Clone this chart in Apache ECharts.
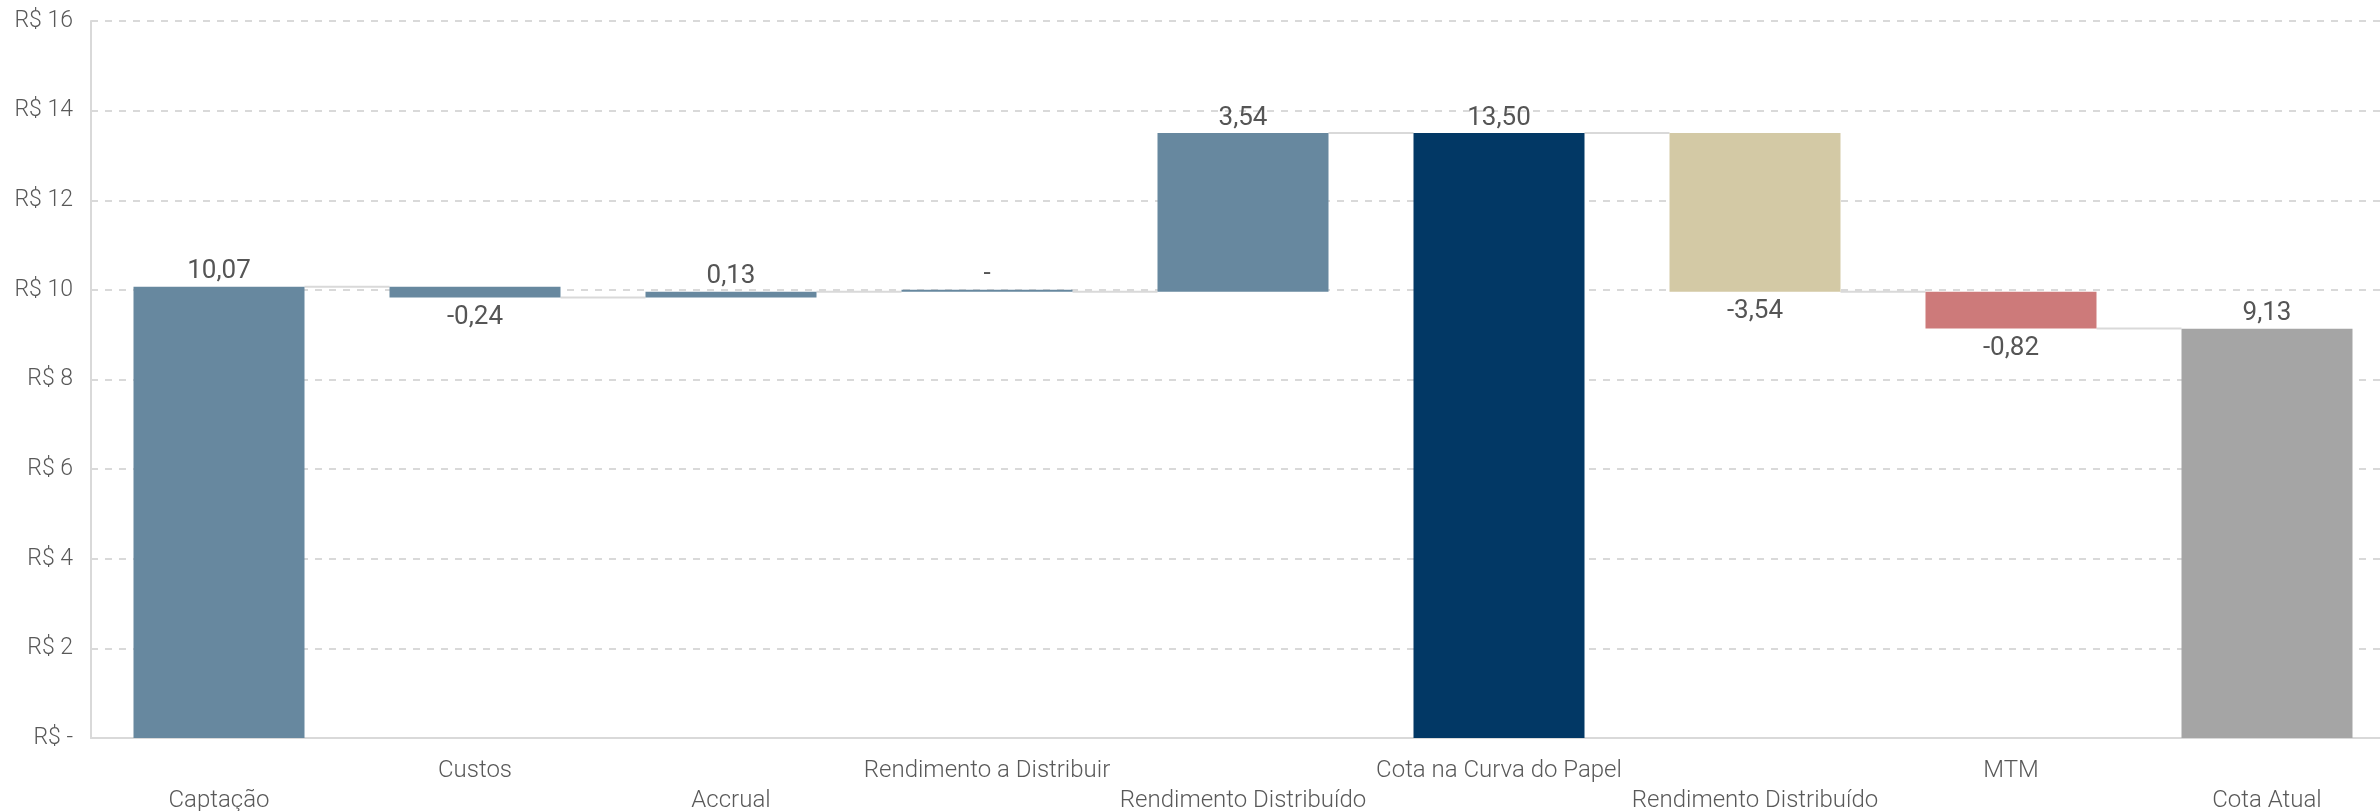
<!DOCTYPE html>
<html>
<head>
<meta charset="utf-8">
<script src="https://cdn.jsdelivr.net/npm/echarts@6/dist/echarts.min.js"></script>
<style>
html,body{margin:0;padding:0;background:#fff;}
#chart{width:2380px;height:811px;}
</style>
</head>
<body>
<div id="chart"></div>
<script>
// ---- data ----
const categories = ['Captação','Custos','Accrual','Rendimento a Distribuir','Rendimento Distribuído','Cota na Curva do Papel','Rendimento Distribuído','MTM','Cota Atual'];
const deltas = [10.07, -0.24, 0.13, 0, 3.54, 13.50, -3.54, -0.82, 9.13];
const isTotal = [true, false, false, false, false, true, false, false, true];
const yTicks = [0, 2, 4, 6, 8, 10, 12, 14, 16];
// ---- styles ----
const barColors = ['#67889f','#67889f','#67889f','#67889f','#67889f','#023865','#d3c9a5','#cd7a7a','#a5a5a5'];
const BAR_RATIO = 0.668;

// build waterfall pieces from the data arrays
const base = [], heights = [], levels = [];
let running = 0;
deltas.forEach((d, i) => {
  if (isTotal[i]) {
    base.push(0); heights.push(d); running = d;
  } else {
    const start = running, end = running + d;
    base.push(Math.min(start, end)); heights.push(Math.abs(d)); running = end;
  }
  levels.push(running);
});
const fmt = v => v === 0 ? '-' : v.toFixed(2).replace('.', ',');

const visibleData = heights.map((h, i) => ({
  value: h,
  itemStyle: { color: barColors[i] },
  label: {
    position: deltas[i] < 0 && !isTotal[i] ? 'bottom' : 'top',
    distance: deltas[i] < 0 && !isTotal[i] ? 7 : 2
  }
}));
const connectorData = levels.slice(0, levels.length - 1).map((l, i) => [i, l]);

const chart = echarts.init(document.getElementById('chart'), null, { renderer: 'canvas' });
const FONT = 'Roboto, "Noto Sans", sans-serif';
chart.setOption({
  animation: false,
  backgroundColor: '#fff',
  grid: { left: 91, width: 2304, top: 21, height: 717, containLabel: false, outerBoundsMode: 'none' },
  xAxis: {
    type: 'category',
    data: categories,
    axisLine: { show: true, lineStyle: { color: '#d9d9d9', width: 2 } },
    axisTick: { show: false },
    axisLabel: {
      interval: 0,
      hideOverlap: false,
      margin: 18,
      color: '#595959',
      fontFamily: FONT,
      fontWeight: 300,
      fontSize: 24,
      lineHeight: 30,
      formatter: (v, i) => (i % 2 === 0 ? '\n' : '') + v
    }
  },
  yAxis: {
    type: 'value',
    min: yTicks[0],
    max: yTicks[yTicks.length - 1],
    interval: yTicks[1] - yTicks[0],
    axisLine: { show: true, lineStyle: { color: '#d9d9d9', width: 2 } },
    axisTick: { show: false },
    splitLine: { show: true, lineStyle: { color: '#d9d9d9', width: 2, type: [7, 7] } },
    axisLabel: {
      margin: 18,
      color: '#595959',
      fontFamily: FONT,
      fontWeight: 300,
      fontSize: 23,
      formatter: v => v === 0 ? 'R$ -' : 'R$ ' + v
    }
  },
  series: [
    {
      type: 'bar',
      stack: 'wf',
      data: base,
      barWidth: (BAR_RATIO * 100) + '%',
      itemStyle: { color: 'transparent' },
      silent: true
    },
    {
      type: 'bar',
      stack: 'wf',
      data: visibleData,
      barWidth: (BAR_RATIO * 100) + '%',
      barMinHeight: 2,
      label: {
        show: true,
        color: '#555555',
        fontFamily: FONT,
        fontSize: 26,
        formatter: p => fmt(deltas[p.dataIndex])
      }
    },
    {
      type: 'custom',
      data: connectorData,
      z: 1,
      renderItem: (params, api) => {
        const i = api.value(0);
        const lvl = api.value(1);
        const p0 = api.coord([i, lvl]);
        const p1 = api.coord([i + 1, lvl]);
        const half = api.size([1, 0])[0] * BAR_RATIO / 2;
        return {
          type: 'line',
          shape: { x1: p0[0] + half, y1: p0[1], x2: p1[0] - half, y2: p1[1] },
          style: { stroke: '#d9d9d9', lineWidth: 2 }
        };
      }
    }
  ]
});
</script>
</body>
</html>
